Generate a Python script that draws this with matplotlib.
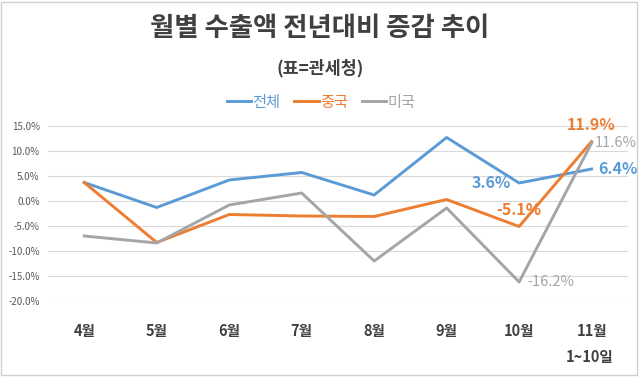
import matplotlib.pyplot as plt
from matplotlib.patches import Rectangle

plt.rcParams['font.family'] = ['Noto Sans CJK KR', 'DejaVu Sans']

# 데이터 (전년대비 증감률, %)
months = ['4월', '5월', '6월', '7월', '8월', '9월', '10월', '11월']
total = [3.7, -1.3, 4.2, 5.7, 1.2, 12.7, 3.6, 6.4]
china = [3.7, -8.3, -2.7, -3.0, -3.1, 0.3, -5.1, 11.9]
usa = [-7.0, -8.4, -0.8, 1.6, -12.0, -1.4, -16.2, 11.6]
yticks = [15, 10, 5, 0, -5, -10, -15, -20]

c_total = '#5B9BD5'
c_china = '#ED7D31'
c_usa = '#A5A5A5'

fig = plt.figure(figsize=(6.4, 3.77), dpi=100)
ax = fig.add_axes([0.075, 0.2016, 0.906, 0.4642])

x = range(len(months))
ax.plot(x, total, color=c_total, lw=2.1, label='전체')
ax.plot(x, china, color=c_china, lw=2.1, label='중국')
ax.plot(x, usa, color=c_usa, lw=2.1, label='미국')

ax.set_xlim(-0.5, len(months) - 0.5)
ax.set_ylim(-20, 15)
ax.set_yticks(yticks)
ax.set_yticklabels([f'{v:.1f}%' for v in yticks], fontsize=7, color='#595959')
ax.set_xticks(list(x))
ax.set_xticklabels(months, fontsize=10.5, fontweight='bold', color='#404040')
ax.tick_params(axis='both', length=0)
ax.tick_params(axis='x', pad=16)
ax.tick_params(axis='y', pad=6)
ax.grid(axis='y', color='#D9D9D9', lw=0.8)
ax.set_axisbelow(True)
for s in ax.spines.values():
    s.set_visible(False)

# 데이터 레이블
ax.annotate(f'{total[6]}%', (6, total[6]), xytext=(-6, 0), textcoords='offset points',
            ha='right', va='center', fontsize=11.5, fontweight='bold', color=c_total)
ax.annotate(f'{total[7]}%', (7, total[7]), xytext=(5, 0), textcoords='offset points',
            ha='left', va='center', fontsize=11.5, fontweight='bold', color=c_total)
ax.annotate(f'{china[6]}%', (6, china[6]), xytext=(0, 12), textcoords='offset points',
            ha='center', va='center', fontsize=11.5, fontweight='bold', color=c_china)
ax.annotate(f'{china[7]}%', (7, china[7]), xytext=(0, 12), textcoords='offset points',
            ha='center', va='center', fontsize=11.5, fontweight='bold', color=c_china)
ax.annotate(f'{usa[6]}%', (6, usa[6]), xytext=(6, 0), textcoords='offset points',
            ha='left', va='center', fontsize=10.5, color=c_usa)
ax.annotate(f'{usa[7]}%', (7, usa[7]), xytext=(2, 0), textcoords='offset points',
            ha='left', va='center', fontsize=10.5, color=c_usa)

fig.text(0.922, 1 - 357 / 377, '1~10일', ha='center', va='center',
         fontsize=10.5, fontweight='bold', color='#404040')

fig.text(0.5, 1 - 28 / 377, '월별 수출액 전년대비 증감 추이', ha='center', va='center',
         fontsize=19, fontweight='bold', color='#404040')
fig.text(0.5, 1 - 68 / 377, '(표=관세청)', ha='center', va='center',
         fontsize=12.5, fontweight='bold', color='#404040')

fig.legend(loc='center', bbox_to_anchor=(0.502, 1 - 102 / 377), ncol=3, frameon=False,
           fontsize=11, labelcolor='linecolor', handlelength=1.6, handletextpad=0.1,
           columnspacing=0.9)

fig.add_artist(Rectangle((0.002, 0.005), 0.993, 0.99, transform=fig.transFigure,
                         fill=False, edgecolor='#D0D0D0', lw=1))

fig.savefig('out.png', dpi=100)
